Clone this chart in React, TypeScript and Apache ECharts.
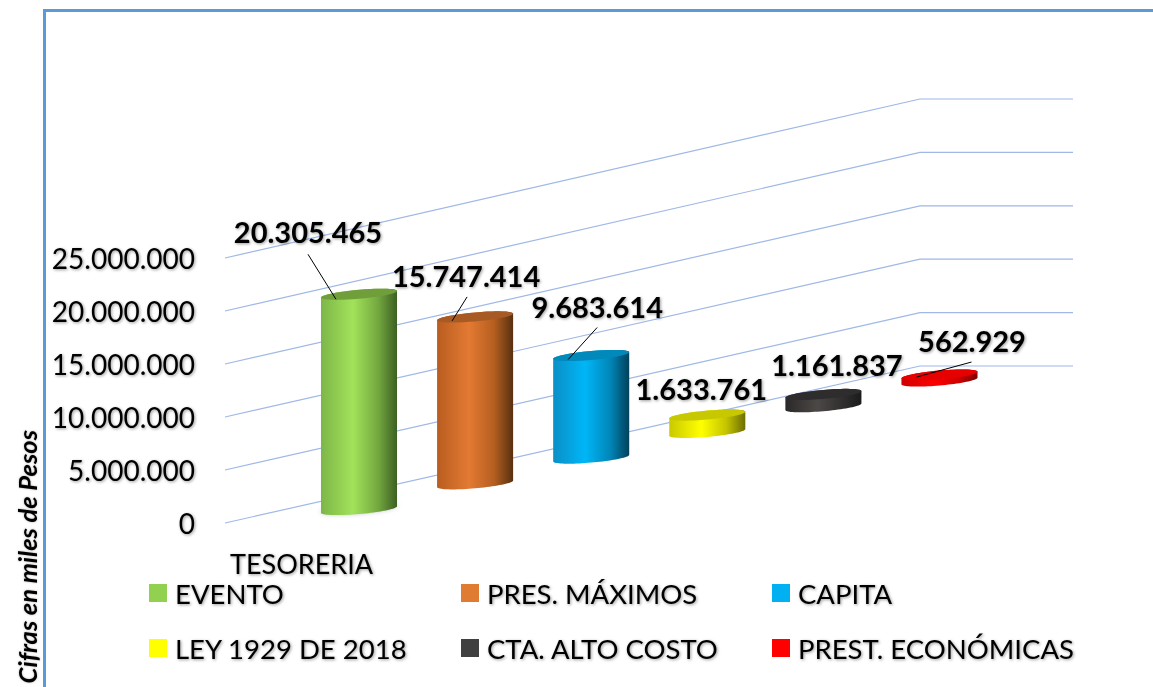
import React, { useEffect, useRef } from "react";
import * as echarts from "echarts";

const categories = ["TESORERIA"];
const seriesNames = ["EVENTO", "PRES. MÁXIMOS", "CAPITA", "LEY 1929 DE 2018", "CTA. ALTO COSTO", "PREST. ECONÓMICAS"];
const seriesValues = [20305465, 15747414, 9683614, 1633761, 1161837, 562929];
const tickValues = [0, 5000000, 10000000, 15000000, 20000000, 25000000];
const legendColors = ["#92D050", "#E07B32", "#00B0F0", "#FFFF00", "#404040", "#FF0000"];

const gradients = [
  ["#7DB648", "#A2E25B", "#74A83F", "#3C6022"],
  ["#B85D20", "#E37A33", "#B55E20", "#58300F"],
  ["#0A8FC6", "#00B6F7", "#0086B8", "#00415B"],
  ["#C9C900", "#FFFF00", "#C4C400", "#6E6E00"],
  ["#2A2828", "#4C4846", "#302E2E", "#1C1B1B"],
  ["#CC0000", "#FF0000", "#D00000", "#7E0000"],
];
const capColors = ["#6F9E3A", "#A85A24", "#0089BA", "#C8C800", "#2E2C2C", "#E60000"];

// label centre offset from the top centre of each cylinder, and leader line [x1,y1,x2,y2] in the same frame
const labelOffsets = [[-51, -63], [-9, -41], [6, -49], [-6, -27], [13.5, -30], [32.5, -35]];
const leaderLines = [[-51, -40, -23, 5], [-8, -20, -23, 4], [6, -28, -23, 4], null, null, [32, -13, -23, 2]];

const fmt = (v: number) => String(v).replace(/\B(?=(\d{3})+(?!\d))/g, ".");

const FONT = "Lato";
const shadow = { textShadowColor: "rgba(0,0,0,0.4)", textShadowBlur: 3, textShadowOffsetX: 1, textShadowOffsetY: 1 };

const X_MIN = -1.1542;
const X_MAX = 6.15;
const X_BEND = 4.832;
const BAR_WIDTH = 0.655;
const WALL_SLOPE = 0.2259;
const WALL_GROW = 0.0075;
const BAR_SLOPE = 0.2214;
const BAR_DEPTH = 16.2;

function ellipse(cx: number, cy: number, rx: number, from: number, to: number) {
  const pts: number[][] = [];
  const n = 40;
  for (let k = 0; k <= n; k++) {
    const t = from + ((to - from) * k) / n;
    pts.push([cx + rx * Math.cos(t), cy + 4.5 * Math.sin(t) - 3.3 * Math.cos(t)]);
  }
  return pts;
}

const renderGrid = (_p: any, api: any) => {
  const v = api.value(0);
  const a = api.coord([X_MIN, v]);
  const b = api.coord([X_BEND, v]);
  const c = api.coord([X_MAX, v]);
  const zero = api.coord([X_MIN, 0]);
  const y = a[1] - WALL_SLOPE * (b[0] - a[0]) - (zero[1] - a[1]) * WALL_GROW;
  return {
    type: "polyline",
    shape: { points: [a, [b[0], y], [c[0], y]] },
    style: { stroke: "#9FB8E6", lineWidth: 1.2, fill: "none" },
  };
};

const renderBar = (idx: number) => (_p: any, api: any) => {
  const i = api.value(0);
  const v = api.value(1);
  const wall = api.coord([X_MIN, 0])[0];
  const base = api.coord([i, 0]);
  const top = api.coord([i, v]);
  const shift = BAR_DEPTH - BAR_SLOPE * (base[0] - wall);
  const cx = base[0];
  const yb = base[1] + shift;
  const yt = top[1] + shift;
  const rx = api.size([BAR_WIDTH, 0])[0] / 2;
  const g = gradients[idx];
  const body = [...ellipse(cx, yt, rx, Math.PI, 2 * Math.PI), ...ellipse(cx, yb, rx, 0, Math.PI)];
  const [ox, oy] = labelOffsets[idx];
  const children: any[] = [];
  if (idx === 0) {
    children.push({
      type: "polygon",
      shape: { points: ellipse(cx, yb - 1, rx, 0, 2 * Math.PI) },
      style: { fill: "rgba(0,0,0,0.5)", shadowBlur: 5, shadowColor: "rgba(0,0,0,0.6)" },
    });
  }
  children.push(
    {
      type: "polygon",
      shape: { points: body },
      style: {
        fill: new echarts.graphic.LinearGradient(0, 0, 1, 0, [
          { offset: 0, color: g[0] },
          { offset: 0.42, color: g[1] },
          { offset: 0.75, color: g[2] },
          { offset: 1, color: g[3] },
        ]),
      },
    },
    { type: "polygon", shape: { points: ellipse(cx, yt, rx, 0, 2 * Math.PI) }, style: { fill: capColors[idx] } },
  );
  const l = leaderLines[idx];
  if (l) {
    children.push({
      type: "line",
      shape: { x1: cx + l[0], y1: yt + l[1], x2: cx + l[2], y2: yt + l[3] },
      style: { stroke: "#000", lineWidth: 1 },
    });
  }
  children.push({
    type: "text",
    x: cx + ox,
    y: yt + oy,
    style: {
      text: fmt(v),
      fontFamily: FONT,
      fontSize: 29,
      fontWeight: "bold",
      fill: "#000",
      align: "center",
      verticalAlign: "middle",
      ...shadow,
    },
  });
  return { type: "group", children };
};

const legendLefts = [149, 461, 772, 149, 461, 772];
const legendTops = [579, 579, 579, 634, 634, 634];

export default function App() {
  const ref = useRef<HTMLDivElement>(null);
  useEffect(() => {
    const chart = echarts.init(ref.current!, null, { renderer: "svg" });
    const option: any = {
      animation: false,
      backgroundColor: "#fff",
      grid: [
        { left: 225, width: 153, top: 258, height: 265 },
        { left: 225, width: 848, top: 258, height: 265 },
      ],
      xAxis: [
        {
          type: "category",
          gridIndex: 0,
          data: categories,
          axisLine: { show: false },
          axisTick: { show: false },
          axisLabel: { margin: 27, fontFamily: FONT, fontSize: 27, color: "#000", ...shadow },
        },
        { type: "value", gridIndex: 1, min: X_MIN, max: X_MAX, show: false },
      ],
      yAxis: [
        {
          type: "value",
          gridIndex: 0,
          min: 0,
          max: 25000000,
          interval: 5000000,
          axisLine: { show: false },
          axisTick: { show: false },
          splitLine: { show: false },
          axisLabel: { margin: 30, fontFamily: FONT, fontSize: 28, color: "#000", formatter: (v: number) => fmt(v), ...shadow },
        },
        { type: "value", gridIndex: 1, min: 0, max: 25000000, interval: 5000000, show: false },
      ],
      legend: seriesNames.map((n, i) => ({
        data: [n],
        left: legendLefts[i],
        top: legendTops[i],
        padding: 0,
        icon: "rect",
        itemWidth: 18,
        itemHeight: 18,
        selectedMode: false,
        textStyle: { fontFamily: FONT, fontSize: 27.5, color: "#000", padding: [0, 0, 6, 3], ...shadow },
      })),
      graphic: [
        {
          type: "polyline",
          silent: true,
          shape: { points: [[44.5, 690], [44.5, 10.5], [1156, 10.5]] },
          style: { stroke: "#5B9BD5", lineWidth: 3, fill: "none" },
        },
        {
          type: "text",
          x: 27,
          y: 430,
          rotation: Math.PI / 2,
          style: {
            text: "Cifras en miles de Pesos",
            fontFamily: FONT,
            fontSize: 25.5,
            fontStyle: "italic",
            fontWeight: "bold",
            fill: "#000",
            align: "right",
            verticalAlign: "middle",
            textShadowColor: "rgba(0,0,0,0.3)",
            textShadowBlur: 2,
          },
        },
      ],
      series: [
        {
          type: "custom",
          name: "grid",
          xAxisIndex: 1,
          yAxisIndex: 1,
          silent: true,
          data: tickValues.map((v) => [v]),
          encode: { y: 0 },
          renderItem: renderGrid,
        },
        ...seriesNames.map((n, i) => ({
          type: "custom",
          name: n,
          xAxisIndex: 1,
          yAxisIndex: 1,
          silent: true,
          itemStyle: { color: legendColors[i] },
          data: [[i, seriesValues[i]]],
          encode: { x: 0, y: 1 },
          renderItem: renderBar(i),
        })),
      ],
    };
    chart.setOption(option);
    return () => chart.dispose();
  }, []);
  return <div ref={ref} style={{ position: "absolute", left: 0, top: 0, width: 1153, height: 687 }} />;
}
